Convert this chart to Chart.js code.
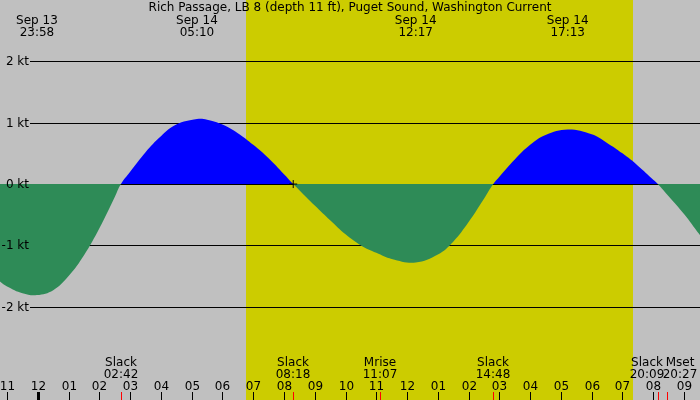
<!DOCTYPE html>
<html>
<head>
<meta charset="utf-8">
<script src="https://cdn.jsdelivr.net/npm/chart.js@4"></script>
<style>
  html, body { margin: 0; padding: 0; background: #c0c0c0; }
</style>
</head>
<body>
<canvas id="tideChart" width="700" height="400"></canvas>
<script>
// hours after midnight Sep 14 (negative = Sep 13)
const hours = [-1.25, -1.0, -0.5, -0.03, 0.5, 1.0, 1.5, 2.0, 2.5, 2.7, 3.0, 3.5, 4.0, 4.5, 5.17,
  5.5, 6.0, 6.5, 7.0, 7.5, 8.0, 8.3, 8.5, 9.0, 9.5, 10.0, 10.5, 11.0, 11.5, 12.28,
  13.0, 13.5, 14.0, 14.5, 14.8, 15.0, 15.5, 16.0, 16.5, 17.22, 18.0,
  18.5, 19.0, 19.5, 20.0, 20.15, 20.5, 21.0, 21.5, 21.75];
// current speed in knots (flood +, ebb -)
const speeds = [-1.58, -1.67, -1.78, -1.81, -1.73, -1.50, -1.16, -0.72, -0.21, 0, 0.20, 0.52, 0.78, 0.97, 1.06,
  1.05, 0.97, 0.83, 0.64, 0.42, 0.16, 0, -0.10, -0.35, -0.59, -0.82, -1.00, -1.12, -1.22, -1.28,
  -1.15, -0.94, -0.62, -0.24, 0, 0.12, 0.40, 0.64, 0.80, 0.89, 0.81,
  0.67, 0.50, 0.30, 0.07, 0, -0.20, -0.49, -0.82, -0.97];

const title = "Rich Passage, LB 8 (depth 11 ft), Puget Sound, Washington Current";
const yTicks = [2, 1, 0, -1, -2];
const sunrise = 6.77;
const sunset = 19.35;

// max current labels on top
const peakHours = [-0.03, 5.17, 12.28, 17.22];
const peakDates = ["Sep 13", "Sep 14", "Sep 14", "Sep 14"];
const peakTimes = ["23:58", "05:10", "12:17", "17:13"];

// slack and moon events on the bottom
const eventHours = [2.7, 8.3, 11.12, 14.8, 20.15, 20.45];
const eventNames = ["Slack", "Slack", "Mrise", "Slack", "Slack", "Mset"];
const eventTimes = ["02:42", "08:18", "11:07", "14:48", "20:09", "20:27"];
const eventNudge = [0, 0, 0, 0, -11, 13];

const hourTicks = [-1, 0, 1, 2, 3, 4, 5, 6, 7, 8, 9, 10, 11, 12, 13, 14, 15, 16, 17, 18, 19, 20, 21];
const nowMark = [{ x: 8.3, y: 0 }];

const FONT = '12px "DejaVu Sans", sans-serif';

const hourLabel = (h) => {
  const v = ((h % 12) + 12) % 12 || 12;
  return String(v).padStart(2, "0");
};

// background, day band and grid
const backdrop = {
  id: "backdrop",
  beforeDatasetsDraw(chart) {
    const { ctx, scales: { x, y } } = chart;
    ctx.save();
    ctx.fillStyle = "#c0c0c0";
    ctx.fillRect(0, 0, chart.width, chart.height);
    const x1 = Math.round(x.getPixelForValue(sunrise));
    const x2 = Math.round(x.getPixelForValue(sunset));
    ctx.fillStyle = "#cccc00";
    ctx.fillRect(x1, 0, x2 - x1, chart.height);

    ctx.strokeStyle = "#000";
    ctx.lineWidth = 1;
    yTicks.forEach((t) => {
      const py = Math.round(y.getPixelForValue(t)) + 0.5;
      ctx.beginPath();
      ctx.moveTo(30, py);
      ctx.lineTo(chart.width, py);
      ctx.stroke();
    });
    ctx.restore();
  },
  afterDatasetsDraw(chart) {
    const { ctx, scales: { x, y } } = chart;
    ctx.save();
    ctx.fillStyle = "#000";
    ctx.font = FONT;
    ctx.textAlign = "right";
    ctx.textBaseline = "middle";
    yTicks.forEach((t) => {
      const py = Math.round(y.getPixelForValue(t)) + 0.5;
      ctx.fillText(t + " kt", 29, py);
    });

    ctx.textAlign = "center";
    ctx.textBaseline = "alphabetic";
    ctx.fillText(title, 350, 11);

    peakHours.forEach((h, i) => {
      const px = x.getPixelForValue(h);
      ctx.fillText(peakDates[i], px, 24);
      ctx.fillText(peakTimes[i], px, 36);
    });

    hourTicks.forEach((h) => {
      const px = Math.round(x.getPixelForValue(h));
      ctx.fillStyle = "#000";
      if (h === 0) ctx.fillRect(px - 1, 392, 3, 8);
      else ctx.fillRect(px, 392, 1, 8);
      ctx.fillText(hourLabel(h), px + 0.5, 390);
    });

    eventHours.forEach((h, i) => {
      const px = Math.round(x.getPixelForValue(h));
      ctx.fillStyle = "#ff0000";
      ctx.fillRect(px, 392, 1, 8);
      ctx.fillStyle = "#000";
      ctx.fillText(eventNames[i], px + eventNudge[i], 366);
      ctx.fillText(eventTimes[i], px + eventNudge[i], 378);
    });
    ctx.restore();
  },
};

new Chart(document.getElementById("tideChart"), {
  type: "line",
  data: {
    datasets: [
      {
        type: "scatter",
        data: nowMark,
        pointStyle: "cross",
        pointRadius: 4,
        borderColor: "#000",
        borderWidth: 1,
        clip: false,
        order: 0,
      },
      {
        data: hours.map((h, i) => ({ x: h, y: speeds[i] })),
        borderWidth: 0,
        borderColor: "rgba(0,0,0,0)",
        pointRadius: 0,
        tension: 0.4,
        fill: { target: "origin", above: "#0000ff", below: "#2e8b57" },
        order: 1,
      },
    ],
  },
  options: {
    responsive: false,
    devicePixelRatio: 1,
    animation: false,
    layout: { padding: 0, autoPadding: false },
    plugins: { legend: { display: false }, tooltip: { enabled: false }, title: { display: false } },
    scales: {
      x: { type: "linear", min: -1.23, max: 21.52, display: false },
      y: { min: -3.52, max: 3.0, display: false },
    },
  },
  plugins: [backdrop],
});
</script>
</body>
</html>
